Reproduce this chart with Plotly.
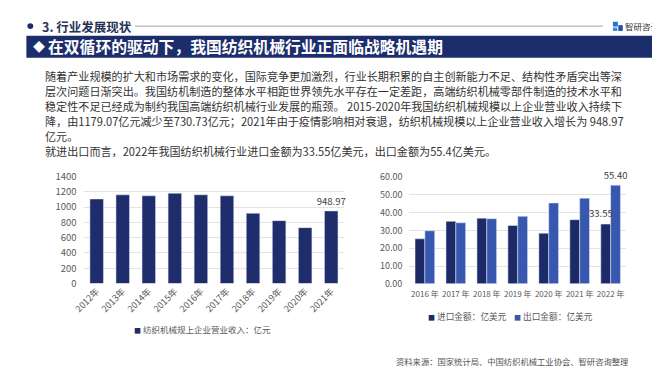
import plotly.graph_objects as go

# ---------------- data ----------------
rev_years = ["2012年", "2013年", "2014年", "2015年", "2016年", "2017年", "2018年", "2019年", "2020年", "2021年"]
revenue = [1105, 1160, 1147, 1179.07, 1160, 1147, 918, 822, 730.73, 948.97]
revenue_labels = ["", "", "", "", "", "", "", "", "", "948.97"]
rev_name = "纺织机械规上企业营业收入：亿元"

trade_years = ["2016 年", "2017 年", "2018 年", "2019 年", "2020 年", "2021 年", "2022 年"]
imports = [25.3, 35.1, 36.9, 32.8, 28.4, 36.0, 33.55]
exports = [29.8, 34.3, 36.6, 37.9, 45.4, 48.1, 55.40]
export_labels = ["", "", "", "", "", "", "55.40"]
imp_name = "进口金额：亿美元"
exp_name = "出口金额：亿美元"

section = "3. 行业发展现状"
title = "在双循环的驱动下，我国纺织机械行业正面临战略机遇期"
paragraph = [
    "随着产业规模的扩大和市场需求的变化，国际竞争更加激烈，行业长期积累的自主创新能力不足、结构性矛盾突出等深",
    "层次问题日渐突出。我国纺机制造的整体水平相距世界领先水平存在一定差距，高端纺织机械零部件制造的技术水平和",
    "稳定性不足已经成为制约我国高端纺织机械行业发展的瓶颈。 2015-2020年我国纺织机械规模以上企业营业收入持续下",
    "降，由1179.07亿元减少至730.73亿元；2021年由于疫情影响相对衰退，纺织机械规模以上企业营业收入增长为 948.97",
    "亿元。",
    "就进出口而言，2022年我国纺织机械行业进口金额为33.55亿美元，出口金额为55.4亿美元。",
]
source = "资料来源：国家统计局、中国纺织机械工业协会、智研咨询整理"
brand = "智研咨询"

# ---------------- style ----------------
W, H = 660, 372
FONT = "Noto Sans CJK SC"
NAVY = "#1c2d6b"
DARK_BAR = "#1f2d6d"
IMP = "#1d2a68"
EXP = "#3858b0"
TICK = "#595959"
GRID = "#e3e3e3"


def px(x):
    return x / W


def py(y):
    return 1 - y / H


fig = go.Figure()

label_font = dict(size=9.5, color="#404040", family=FONT)
fig.add_trace(go.Bar(
    x=rev_years, y=revenue, name=rev_name, marker_color=DARK_BAR, width=0.52,
    text=revenue_labels, textposition="outside", cliponaxis=False, constraintext="none",
    textfont=label_font, xaxis="x", yaxis="y", showlegend=False,
))
fig.add_trace(go.Bar(
    x=trade_years, y=imports, name=imp_name, marker_color=IMP,
    xaxis="x2", yaxis="y2", showlegend=False,
))
fig.add_trace(go.Bar(
    x=trade_years, y=exports, name=exp_name, marker_color=EXP,
    text=export_labels, textposition="outside", cliponaxis=False, constraintext="none",
    textfont=label_font, xaxis="x2", yaxis="y2", showlegend=False,
))

axis_common = dict(showline=False, ticks="", zeroline=False)
fig.update_layout(
    width=W, height=H,
    margin=dict(l=0, r=0, t=0, b=0),
    paper_bgcolor="white", plot_bgcolor="white",
    font=dict(family=FONT, color=TICK),
    barmode="group", bargap=0.365, bargroupgap=0,
    xaxis=dict(domain=[px(65.75), px(330.75)], anchor="y", tickangle=-45,
               tickfont=dict(size=9, color=TICK), showgrid=False, **axis_common),
    yaxis=dict(domain=[py(278), py(166.7)], anchor="x", range=[0, 1400], dtick=200,
               gridcolor=GRID, tickfont=dict(size=9.5, color=TICK), ticklabelstandoff=6,
               **axis_common),
    xaxis2=dict(domain=[px(397), px(617.4)], anchor="y2", tickangle=0,
                tickfont=dict(size=8, color=TICK), showgrid=False, ticklabelstandoff=4,
                **axis_common),
    yaxis2=dict(domain=[py(278.3), py(167.3)], anchor="x2", range=[0, 60], dtick=10,
                tickformat=".2f", gridcolor=GRID, tickfont=dict(size=9, color=TICK),
                ticklabelstandoff=6, **axis_common),
)

shapes = []
ann = []

# section header
shapes.append(dict(type="circle", xref="paper", yref="paper",
                   x0=px(8.5), x1=px(14.5), y0=py(13.5), y1=py(7.5),
                   fillcolor=NAVY, line=dict(width=0)))
ann.append(dict(text="<b>" + section + "</b>", x=px(21), y=py(10.5), xanchor="left",
                yanchor="middle", font=dict(size=12.5, color="#283355", family=FONT)))
shapes.append(dict(type="line", xref="paper", yref="paper",
                   x0=px(118), x1=px(594), y0=py(10.5), y1=py(10.5),
                   line=dict(color="#a6a6a6", width=1)))
# brand logo
shapes.append(dict(type="rect", xref="paper", yref="paper",
                   x0=px(604), x1=px(609), y0=py(11), y1=py(6),
                   fillcolor="#2b6fd0", line=dict(width=0)))
shapes.append(dict(type="rect", xref="paper", yref="paper",
                   x0=px(609.5), x1=px(614), y0=py(15.5), y1=py(9.5),
                   fillcolor="#1d4fa8", line=dict(width=0)))
shapes.append(dict(type="rect", xref="paper", yref="paper",
                   x0=px(604), x1=px(608.5), y0=py(15.5), y1=py(12),
                   fillcolor="#3a86e0", line=dict(width=0)))
ann.append(dict(text=brand, x=px(653), y=py(10.5), xanchor="right", yanchor="middle",
                font=dict(size=8.5, color="#333333", family=FONT)))

# title band
shapes.append(dict(type="rect", xref="paper", yref="paper",
                   x0=px(7.5), x1=px(653), y0=py(43.5), y1=py(20.5),
                   fillcolor=NAVY, line=dict(width=0), layer="below"))
ann.append(dict(text="◆", x=px(20), y=py(32), xanchor="center", yanchor="middle",
                font=dict(size=12, color="white", family=FONT)))
ann.append(dict(text="<b>" + title + "</b>", x=px(27), y=py(32), xanchor="left",
                yanchor="middle", font=dict(size=15.8, color="white", family=FONT)))

# paragraph
for i, line in enumerate(paragraph):
    ann.append(dict(text=line, x=px(24), y=py(62.7 + 15.6 * i), xanchor="left",
                    yanchor="middle", font=dict(size=11.1, color="#333333", family=FONT)))

# import label for the last year, placed over the import bar
ann.append(dict(text="%.2f" % imports[-1], x=trade_years[-1], y=imports[-1],
                xref="x2", yref="y2", xanchor="right", yanchor="bottom", xshift=4, yshift=2,
                showarrow=False, font=label_font))

# legends
def sq(c):
    return "<span style='color:%s;font-size:7px'>■</span> " % c

ann.append(dict(text=sq(DARK_BAR) + rev_name, x=px(187), y=py(325.7), xanchor="center",
                yanchor="middle", font=dict(size=8.5, color=TICK, family=FONT)))
ann.append(dict(text=sq(IMP) + imp_name, x=px(414), y=py(312.3), xanchor="left",
                yanchor="middle", font=dict(size=8.7, color=TICK, family=FONT)))
ann.append(dict(text=sq(EXP) + exp_name, x=px(501), y=py(312.3), xanchor="left",
                yanchor="middle", font=dict(size=8.7, color=TICK, family=FONT)))

# source
ann.append(dict(text=source, x=px(622), y=py(359), xanchor="right", yanchor="middle",
                font=dict(size=8.3, color="#555555", family=FONT)))

for a in ann:
    a.setdefault("xref", "paper")
    a.setdefault("yref", "paper")
    a["showarrow"] = False

fig.update_layout(shapes=shapes, annotations=ann)
fig.write_html("out.html")
